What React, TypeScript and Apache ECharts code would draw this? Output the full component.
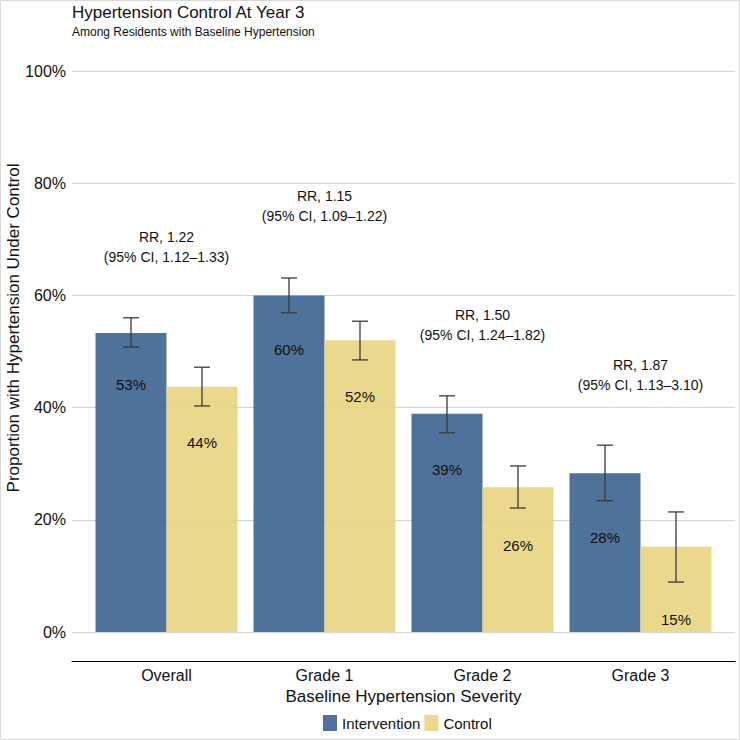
import React, { useEffect, useRef } from "react";
import * as echarts from "echarts";

const categories = ["Overall", "Grade 1", "Grade 2", "Grade 3"];
const seriesNames = ["Intervention", "Control"];
const interventionValues = [53.3, 60.0, 38.9, 28.3];
const controlValues = [43.7, 52.0, 25.8, 15.2];
const interventionLower = [50.8, 56.9, 35.5, 23.4];
const interventionUpper = [56.0, 63.1, 42.1, 33.3];
const controlLower = [40.3, 48.5, 22.1, 8.9];
const controlUpper = [47.2, 55.4, 29.6, 21.4];
const riskRatios = ["1.22", "1.15", "1.50", "1.87"];
const ciRanges = ["1.12–1.33", "1.09–1.22", "1.24–1.82", "1.13–3.10"];
const rrAnchorValues = [68.7, 76.0, 54.8, 45.9];

const FONT = "'Liberation Sans', Arial, Helvetica, sans-serif";
const BLUE = "rgba(59,99,142,0.9)";
const YELLOW = "rgba(232,213,127,0.9)";
const BAR_WIDTH = 71;
const TEXT = "#111";

function errorRenderer(sign: number) {
  return (params: any, api: any) => {
    const idx = api.value(0);
    const lo = api.value(1);
    const hi = api.value(2);
    const v = api.value(3);
    const pLo = api.coord([idx, lo]);
    const pHi = api.coord([idx, hi]);
    const x = pLo[0] + (sign * BAR_WIDTH) / 2;
    const stroke = { stroke: "#3a3a3a", lineWidth: 1.3 };
    return {
      type: "group",
      children: [
        { type: "line", shape: { x1: x, y1: pHi[1], x2: x, y2: pLo[1] }, style: stroke },
        { type: "line", shape: { x1: x - 8, y1: pHi[1], x2: x + 8, y2: pHi[1] }, style: stroke },
        { type: "line", shape: { x1: x - 8, y1: pLo[1], x2: x + 8, y2: pLo[1] }, style: stroke },
        {
          type: "text",
          x: x,
          y: pLo[1] + 37,
          style: {
            text: Math.round(v) + "%",
            fontSize: 15,
            fontFamily: FONT,
            fill: TEXT,
            align: "center",
            verticalAlign: "middle",
          },
        },
      ],
    };
  };
}

export default function App() {
  const ref = useRef<HTMLDivElement>(null);
  useEffect(() => {
    if (!ref.current) return;
    const chart = echarts.init(ref.current, null, { renderer: "svg" });
    const intData = categories.map((_, i) => [i, interventionLower[i], interventionUpper[i], interventionValues[i]]);
    const ctrlData = categories.map((_, i) => [i, controlLower[i], controlUpper[i], controlValues[i]]);
    const rrData = categories.map((_, i) => [i, rrAnchorValues[i]]);

    const option: any = {
      animation: false,
      backgroundColor: "#ffffff",
      textStyle: { fontFamily: FONT, color: TEXT },
      title: {
        text: "Hypertension Control At Year 3",
        subtext: "Among Residents with Baseline Hypertension",
        left: 72,
        top: 4,
        padding: 0,
        itemGap: 5,
        textStyle: { fontSize: 17, fontWeight: "normal", color: TEXT, fontFamily: FONT },
        subtextStyle: { fontSize: 12, color: TEXT, fontFamily: FONT },
      },
      graphic: [
        {
          type: "rect",
          shape: { x: 0.5, y: 0.5, width: 739, height: 739 },
          style: { fill: "none", stroke: "#d9d9d9", lineWidth: 1 },
          silent: true,
        },
        {
          type: "text",
          x: 13,
          y: 328,
          rotation: Math.PI / 2,
          style: {
            text: "Proportion with Hypertension Under Control",
            fontSize: 17,
            fontFamily: FONT,
            fill: TEXT,
            align: "center",
            verticalAlign: "middle",
          },
          silent: true,
        },
      ],
      legend: {
        data: seriesNames,
        left: 318,
        top: 710,
        itemWidth: 14,
        itemHeight: 16,
        itemGap: 4,
        icon: "rect",
        textStyle: { fontSize: 15, color: TEXT, fontFamily: FONT },
      },
      grid: [
        { left: 72, right: 5, top: 71, bottom: 108 },
        { left: 87.5, right: 20.5, top: 71, bottom: 108 },
        { left: 72, right: 5, top: 660, height: 1 },
      ],
      xAxis: [
        { gridIndex: 0, type: "value", show: false, min: 0, max: 1 },
        {
          gridIndex: 1,
          type: "category",
          data: categories,
          axisLine: { show: false },
          axisTick: { show: false },
          axisLabel: { fontSize: 16, color: TEXT, margin: 35, fontFamily: FONT },
          name: "Baseline Hypertension Severity",
          nameLocation: "middle",
          nameGap: 51,
          nameTextStyle: { fontSize: 17, color: TEXT, fontFamily: FONT },
        },
        {
          gridIndex: 2,
          type: "value",
          min: 0,
          max: 1,
          axisLine: { show: true, lineStyle: { color: "#000", width: 1.2 } },
          axisTick: { show: false },
          axisLabel: { show: false },
          splitLine: { show: false },
        },
      ],
      yAxis: [
        {
          gridIndex: 0,
          type: "value",
          min: 0,
          max: 100,
          interval: 20,
          axisLine: { show: false },
          axisTick: { show: false },
          axisLabel: { formatter: "{value}%", fontSize: 16, color: TEXT, margin: 6, fontFamily: FONT },
          splitLine: { lineStyle: { color: "#d4d4d4", width: 1 } },
        },
        { gridIndex: 1, type: "value", min: 0, max: 100, show: false },
        { gridIndex: 2, type: "value", show: false },
      ],
      series: [
        {
          name: seriesNames[0],
          type: "bar",
          xAxisIndex: 1,
          yAxisIndex: 1,
          data: interventionValues,
          barWidth: BAR_WIDTH,
          barGap: "0%",
          itemStyle: { color: BLUE },
        },
        {
          name: seriesNames[1],
          type: "bar",
          xAxisIndex: 1,
          yAxisIndex: 1,
          data: controlValues,
          barWidth: BAR_WIDTH,
          barGap: "0%",
          itemStyle: { color: YELLOW },
        },
        {
          type: "custom",
          xAxisIndex: 1,
          yAxisIndex: 1,
          data: intData,
          renderItem: errorRenderer(-1),
          z: 5,
          silent: true,
        },
        {
          type: "custom",
          xAxisIndex: 1,
          yAxisIndex: 1,
          data: ctrlData,
          renderItem: errorRenderer(1),
          z: 5,
          silent: true,
        },
        {
          type: "custom",
          xAxisIndex: 1,
          yAxisIndex: 1,
          data: rrData,
          z: 5,
          silent: true,
          renderItem: (params: any, api: any) => {
            const i = api.value(0);
            const p = api.coord([i, api.value(1)]);
            return {
              type: "text",
              x: p[0],
              y: p[1],
              style: {
                text: "RR, " + riskRatios[i] + "\n(95% CI, " + ciRanges[i] + ")",
                fontSize: 14,
                lineHeight: 20,
                fontFamily: FONT,
                fill: TEXT,
                align: "center",
                verticalAlign: "middle",
              },
            };
          },
        },
      ],
    };
    chart.setOption(option);
    return () => chart.dispose();
  }, []);
  return (
    <div
      ref={ref}
      style={{ position: "absolute", left: 0, top: 0, width: 740, height: 740 }}
    />
  );
}
